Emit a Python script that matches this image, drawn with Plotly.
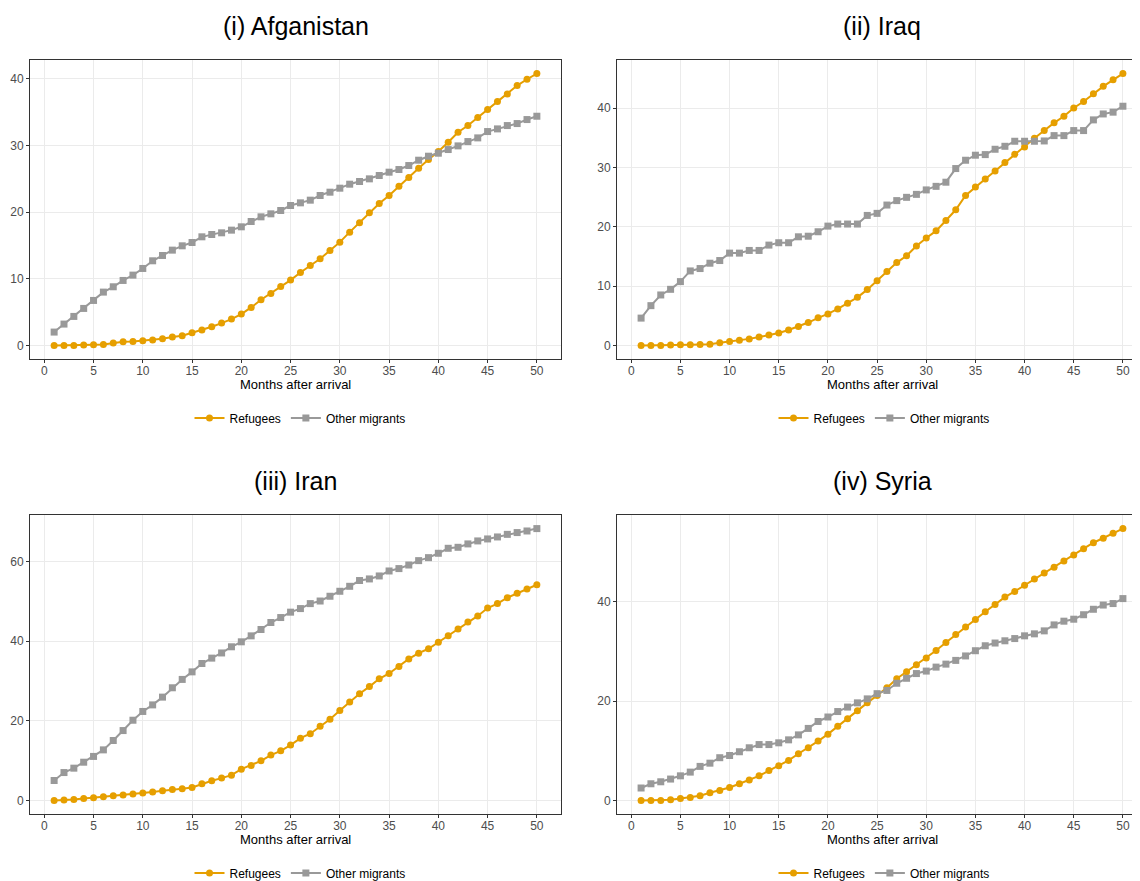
import plotly.graph_objects as go

months = list(range(1, 51))

afg_refugees = [0, 0, 0, 0.05, 0.1, 0.15, 0.35, 0.55, 0.6, 0.7,
                0.8, 1.0, 1.25, 1.45, 1.9, 2.3, 2.8, 3.35, 3.95, 4.7,
                5.7, 6.85, 7.8, 8.85, 9.8, 10.95, 12.0, 13.0, 14.25, 15.5,
                17.0, 18.4, 19.9, 21.3, 22.5, 23.9, 25.2, 26.6, 27.9, 29.1,
                30.5, 32.0, 33.0, 34.2, 35.4, 36.6, 37.75, 39.0, 39.95, 40.8]
afg_other = [2.0, 3.2, 4.35, 5.55, 6.75, 8.0, 8.8, 9.75, 10.55, 11.55,
             12.7, 13.5, 14.3, 14.95, 15.45, 16.3, 16.65, 16.9, 17.3, 17.8,
             18.6, 19.3, 19.75, 20.25, 21.0, 21.4, 21.8, 22.5, 23.0, 23.6,
             24.2, 24.6, 25.0, 25.5, 26.0, 26.4, 27.0, 27.8, 28.4, 28.85,
             29.4, 29.95, 30.6, 31.15, 32.1, 32.5, 33.0, 33.3, 33.9, 34.4]

irq_refugees = [0, 0, 0, 0.05, 0.1, 0.1, 0.15, 0.2, 0.45, 0.65,
                0.85, 1.1, 1.4, 1.75, 2.1, 2.6, 3.2, 3.85, 4.65, 5.3,
                6.15, 7.1, 8.1, 9.4, 10.9, 12.45, 13.95, 15.1, 16.75, 18.1,
                19.3, 21.05, 22.85, 25.25, 26.7, 28.05, 29.4, 30.8, 32.2, 33.45,
                34.9, 36.2, 37.5, 38.6, 40.0, 41.1, 42.4, 43.65, 44.75, 45.8]
irq_other = [4.6, 6.7, 8.5, 9.45, 10.75, 12.55, 12.95, 13.85, 14.3, 15.55,
             15.55, 16.0, 16.0, 16.9, 17.3, 17.3, 18.3, 18.4, 19.15, 20.1,
             20.45, 20.45, 20.45, 21.9, 22.25, 23.65, 24.4, 24.95, 25.45, 26.2,
             26.8, 27.5, 29.8, 31.2, 32.05, 32.15, 33.05, 33.55, 34.4, 34.4,
             34.4, 34.45, 35.35, 35.35, 36.2, 36.2, 38.0, 39.0, 39.3, 40.3]

irn_refugees = [0, 0.1, 0.25, 0.5, 0.65, 0.9, 1.15, 1.35, 1.6, 1.85,
                2.1, 2.4, 2.75, 2.95, 3.25, 4.2, 4.95, 5.6, 6.35, 7.85,
                8.8, 9.95, 11.4, 12.45, 13.9, 15.65, 16.75, 18.65, 20.4, 22.6,
                24.75, 26.8, 28.6, 30.55, 31.9, 33.65, 35.55, 37.0, 38.1, 39.75,
                41.4, 43.1, 44.85, 46.35, 48.35, 49.45, 50.95, 52.05, 53.15, 54.2]
irn_other = [5.0, 7.0, 8.1, 9.6, 11.05, 12.7, 15.05, 17.55, 20.15, 22.35,
             24.0, 25.95, 28.3, 30.4, 32.3, 34.4, 35.75, 37.05, 38.6, 39.85,
             41.35, 42.95, 44.7, 45.95, 47.3, 48.2, 49.45, 50.1, 51.3, 52.55,
             53.8, 55.25, 55.65, 56.4, 57.65, 58.25, 59.15, 60.25, 61.0, 62.1,
             63.35, 63.6, 64.45, 65.2, 65.7, 66.2, 66.85, 67.3, 67.7, 68.3]

syr_refugees = [0, 0, 0, 0.15, 0.4, 0.6, 0.95, 1.55, 2.0, 2.6,
                3.35, 4.1, 4.95, 6.0, 7.0, 8.05, 9.4, 10.6, 11.95, 13.35,
                14.95, 16.45, 18.05, 19.65, 21.15, 22.7, 24.5, 25.9, 27.3, 28.7,
                30.2, 31.8, 33.4, 34.95, 36.45, 38.0, 39.45, 40.95, 42.1, 43.35,
                44.6, 45.8, 46.95, 48.2, 49.45, 50.7, 51.9, 52.8, 53.8, 54.75]
syr_other = [2.5, 3.35, 3.75, 4.3, 4.95, 5.7, 6.85, 7.5, 8.6, 9.05,
             9.8, 10.6, 11.25, 11.25, 11.6, 12.2, 13.2, 14.5, 15.9, 16.8,
             17.9, 18.8, 19.65, 20.45, 21.5, 22.15, 23.6, 24.6, 25.55, 26.05,
             26.85, 27.45, 28.2, 29.1, 30.15, 31.15, 31.7, 32.15, 32.6, 33.15,
             33.55, 34.15, 35.35, 36.1, 36.5, 37.4, 38.5, 39.35, 39.65, 40.65]

titles = ["(i) Afganistan", "(ii) Iraq", "(iii) Iran", "(iv) Syria"]
series_names = ["Refugees", "Other migrants"]
x_ticks = [0, 5, 10, 15, 20, 25, 30, 35, 40, 45, 50]
y_ticks = [[0, 10, 20, 30, 40], [0, 10, 20, 30, 40], [0, 20, 40, 60], [0, 20, 40]]
x_label = "Months after arrival"

panels = [(afg_refugees, afg_other), (irq_refugees, irq_other),
          (irn_refugees, irn_other), (syr_refugees, syr_other)]

W, H = 1140, 881
OFF = 8  # page body margin in the browser
# target screen-pixel boxes of plot areas: (left, right, top, bottom)
boxes = [(30, 561, 60, 359), (617, 1147, 60, 359),
         (30, 561, 515, 814), (617, 1147, 515, 814)]
title_y = [26, 26, 481, 481]
xlab_y = [384, 384, 839, 839]
legend_y = [418, 418, 873, 873]
legend_x = [300, 884, 300, 884]


def px(v):
    return (v - OFF) / W


def py(v):
    return 1 - (v - OFF) / H


ORANGE = "#E69F00"
GREY = "#999999"
FONT = "Liberation Sans, Arial, sans-serif"

fig = go.Figure()
annotations = []
for i, (ref, oth) in enumerate(panels):
    n = i + 1
    xa = "x" if n == 1 else f"x{n}"
    ya = "y" if n == 1 else f"y{n}"
    leg = "legend" if n == 1 else f"legend{n}"
    fig.add_trace(go.Scatter(x=months, y=ref, mode="lines+markers", name=series_names[0],
                             line=dict(color=ORANGE, width=2),
                             marker=dict(symbol="circle", size=7, color=ORANGE),
                             xaxis=xa, yaxis=ya, legend=leg))
    fig.add_trace(go.Scatter(x=months, y=oth, mode="lines+markers", name=series_names[1],
                             line=dict(color=GREY, width=2),
                             marker=dict(symbol="square", size=7, color=GREY),
                             xaxis=xa, yaxis=ya, legend=leg))
    l, r, t, b = boxes[i]
    xdom = [px(l), min(px(r), 1.0)]
    ydom = [py(b), py(t)]
    allv = ref + oth
    lo, hi = min(allv), max(allv)
    pad = (hi - lo) * 0.05
    xpad = (max(months) - min(months)) * 0.05
    xlo, xhi = min(months) - xpad, max(months) + xpad
    if px(r) > 1.0:
        # part of the panel lies outside the picture: keep the same scale
        xhi = xlo + (xhi - xlo) * (1.0 - px(l)) / (px(r) - px(l))
    axis_common = dict(showline=True, mirror=True, linecolor="#333333", linewidth=1,
                       showgrid=True, gridcolor="#EBEBEB", gridwidth=1, zeroline=False,
                       ticks="outside", ticklen=3, tickcolor="#333333",
                       tickfont=dict(family=FONT, size=12, color="#4D4D4D"))
    fig.layout[f"xaxis{'' if n == 1 else n}"] = dict(
        domain=xdom, anchor=ya, range=[xlo, xhi], ticklabelstandoff=-2,
        tickvals=x_ticks, **axis_common)
    fig.layout[f"yaxis{'' if n == 1 else n}"] = dict(
        domain=ydom, anchor=xa, range=[lo - pad, hi + pad],
        tickvals=y_ticks[i], **axis_common)
    cx = (l + r) / 2
    annotations.append(dict(text=titles[i], x=px(cx), y=py(title_y[i]), xref="paper", yref="paper",
                            xanchor="center", yanchor="middle", showarrow=False,
                            font=dict(family=FONT, size=25, color="black")))
    annotations.append(dict(text=x_label, x=px(cx), y=py(xlab_y[i]), xref="paper", yref="paper",
                            xanchor="center", yanchor="middle", showarrow=False,
                            font=dict(family=FONT, size=13, color="black")))
    fig.layout[leg] = dict(orientation="h", x=px(legend_x[i]), y=py(legend_y[i]),
                           xanchor="center", yanchor="middle", xref="paper", yref="paper",
                           font=dict(family=FONT, size=12, color="black"),
                           bgcolor="rgba(0,0,0,0)", itemwidth=30, tracegroupgap=0)

fig.update_layout(width=W, height=H, margin=dict(l=0, r=0, t=0, b=0),
                  plot_bgcolor="white", paper_bgcolor="white",
                  annotations=annotations, showlegend=True,
                  font=dict(family=FONT))

fig.write_html("out.html")
